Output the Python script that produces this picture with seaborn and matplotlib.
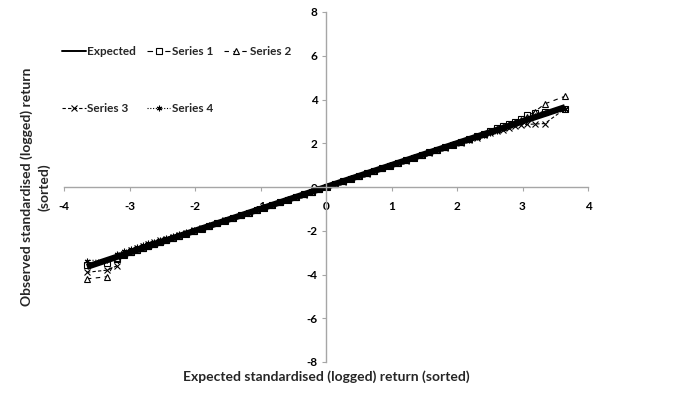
#!/usr/bin/env python
"""Normal Q-Q style figure: observed vs expected standardised (logged)
returns, sorted, for four series plus the expected 45 degree line.
"""
import matplotlib
matplotlib.use('Agg')
import matplotlib.pyplot as plt
from matplotlib.lines import Line2D
import seaborn as sb
import pandas as pd


output_file = 'out.png'

# expected standardised quantiles (x axis, shared by all series)
expected_q = [-3.65, -3.34, -3.19, -3.08, -2.98, -2.89, -2.80, -2.71, -2.62, -2.53,
              -2.44, -2.34, -2.24, -2.13, -2.02, -1.90, -1.78, -1.66, -1.54, -1.42,
              -1.30, -1.18, -1.06, -0.94, -0.82, -0.70, -0.58, -0.46, -0.34, -0.22,
              -0.10, 0.02, 0.14, 0.26, 0.38, 0.50, 0.62, 0.74, 0.86, 0.98,
              1.10, 1.22, 1.34, 1.46, 1.58, 1.70, 1.82, 1.94, 2.06, 2.18,
              2.30, 2.41, 2.51, 2.61, 2.70, 2.79, 2.88, 2.97, 3.07, 3.19,
              3.34, 3.65]

# observed sorted standardised returns
series_1 = [-3.56, -3.47, -3.30, -3.12, -2.99, -2.88, -2.79, -2.70, -2.61, -2.52,
            -2.43, -2.33, -2.24, -2.13, -2.02, -1.91, -1.79, -1.66, -1.54, -1.42,
            -1.30, -1.18, -1.06, -0.94, -0.82, -0.70, -0.58, -0.46, -0.34, -0.22,
            -0.10, 0.02, 0.14, 0.26, 0.38, 0.50, 0.62, 0.74, 0.86, 0.98,
            1.10, 1.22, 1.34, 1.46, 1.58, 1.70, 1.82, 1.94, 2.06, 2.19,
            2.32, 2.44, 2.56, 2.68, 2.80, 2.90, 2.98, 3.12, 3.30, 3.38,
            3.45, 3.58]
series_2 = [-4.20, -4.10, -3.25, -3.05, -2.96, -2.87, -2.78, -2.69, -2.60, -2.51,
            -2.42, -2.32, -2.22, -2.12, -2.01, -1.89, -1.77, -1.65, -1.53, -1.41,
            -1.29, -1.17, -1.05, -0.93, -0.81, -0.69, -0.57, -0.45, -0.33, -0.21,
            -0.09, 0.03, 0.15, 0.27, 0.39, 0.51, 0.63, 0.75, 0.87, 0.99,
            1.11, 1.23, 1.35, 1.47, 1.59, 1.71, 1.83, 1.95, 2.07, 2.20,
            2.32, 2.44, 2.55, 2.66, 2.76, 2.86, 2.96, 3.08, 3.22, 3.45,
            3.80, 4.15]
series_3 = [-3.90, -3.80, -3.60, -3.05, -2.90, -2.80, -2.70, -2.60, -2.52, -2.44,
            -2.36, -2.27, -2.18, -2.08, -1.98, -1.87, -1.76, -1.64, -1.53, -1.41,
            -1.29, -1.18, -1.06, -0.94, -0.82, -0.70, -0.58, -0.46, -0.35, -0.23,
            -0.11, 0.01, 0.13, 0.25, 0.37, 0.49, 0.61, 0.73, 0.85, 0.97,
            1.09, 1.21, 1.33, 1.45, 1.57, 1.69, 1.80, 1.92, 2.03, 2.15,
            2.26, 2.36, 2.45, 2.54, 2.62, 2.70, 2.78, 2.84, 2.86, 2.88,
            2.90, 3.58]
series_4 = [-3.36, -3.33, -3.05, -2.92, -2.84, -2.76, -2.67, -2.58, -2.50, -2.41,
            -2.33, -2.24, -2.15, -2.06, -1.96, -1.86, -1.75, -1.64, -1.52, -1.41,
            -1.29, -1.17, -1.05, -0.94, -0.82, -0.70, -0.58, -0.46, -0.34, -0.22,
            -0.10, 0.02, 0.14, 0.26, 0.38, 0.50, 0.62, 0.74, 0.86, 0.98,
            1.10, 1.22, 1.34, 1.46, 1.58, 1.70, 1.82, 1.93, 2.05, 2.16,
            2.27, 2.38, 2.48, 2.58, 2.68, 2.78, 2.88, 2.98, 3.10, 3.25,
            3.40, 3.55]

x_ticks = [-4, -3, -2, -1, 0, 1, 2, 3, 4]
y_ticks = [-8, -6, -4, -2, 0, 2, 4, 6, 8]

# per series styling: (label, values, marker, dashes, face colour)
series_styles = [
    ('Series 1', series_1, 's', (5, 3), 'white'),
    ('Series 2', series_2, '^', (4, 4), 'white'),
    ('Series 3', series_3, 'x', (3, 2), 'black'),
    ('Series 4', series_4, (6, 2, 0), (1, 1.5), 'black'),
]


def create_qq_figure(output_file):
    """Build and save the Q-Q comparison figure."""
    sb.set_style('white')
    plt.rcParams['font.family'] = ['Lato', 'DejaVu Sans']
    plt.rcParams['font.weight'] = 'bold'

    fig = plt.figure(figsize=(6.83, 3.97), dpi=100)
    ax = fig.add_axes([64 / 683, 35 / 397, 524 / 683, 350 / 397])

    df = pd.DataFrame({'expected': expected_q})
    df['Expected'] = expected_q

    handles = {}
    for label, values, marker, dashes, face in series_styles:
        df[label] = values
        sb.lineplot(x='expected', y=label, data=df, ax=ax, sort=False,
                    estimator=None, color='black', linewidth=0.8,
                    marker=marker, markersize=4, markeredgewidth=0.8,
                    markerfacecolor=face, markeredgecolor='black',
                    dashes=False)
        line = ax.lines[-1]
        line.set_dashes(dashes)
        handles[label] = line

    # the dense cloud of observations makes the expected line look heavy
    sb.lineplot(x='expected', y='Expected', data=df, ax=ax, sort=False,
                estimator=None, color='black', linewidth=4.5,
                solid_capstyle='butt')
    # thin proxy for the legend entry
    handles['Expected'] = Line2D([], [], color='black', linewidth=1.4)

    # excel style axes crossing at the origin
    ax.set_xlim(-4, 4)
    ax.set_ylim(-8, 8)
    for side in ['left', 'bottom']:
        ax.spines[side].set_position('zero')
        ax.spines[side].set_color('#a6a6a6')
        ax.spines[side].set_linewidth(1.0)
    ax.spines['right'].set_visible(False)
    ax.spines['top'].set_visible(False)

    ax.set_xticks(x_ticks)
    ax.set_yticks(y_ticks)
    ax.set_xticklabels([str(t) for t in x_ticks])
    ax.set_yticklabels([str(t) for t in y_ticks])
    ax.tick_params(axis='both', direction='out', length=3, width=0.8,
                   color='#a6a6a6', labelsize=8.5, labelcolor='black', pad=3)
    ax.tick_params(axis='x', pad=7)
    ax.xaxis.set_ticks_position('bottom')
    ax.yaxis.set_ticks_position('left')

    ax.set_xlabel('Expected standardised (logged) return (sorted)',
                  fontsize=10, fontweight='bold')
    ax.set_ylabel('Observed standardised (logged) return\n(sorted)',
                  fontsize=10, fontweight='bold', multialignment='center',
                  linespacing=1.5)
    ax.xaxis.set_label_coords(0.5, -0.025)
    ax.xaxis.label.set_va('top')
    ax.yaxis.set_label_coords(-0.025, 0.5)

    # legend in two rows: Expected, S1, S2 / S3, S4 (column major order)
    order = ['Expected', 'Series 3', 'Series 1', 'Series 4', 'Series 2']
    ax.legend([handles[k] for k in order], order, ncol=3,
              loc='upper left', bbox_to_anchor=(62 / 683, 1 - 46 / 397),
              bbox_transform=fig.transFigure, frameon=False,
              borderpad=0, borderaxespad=0, handlelength=2.0,
              handletextpad=0.15, columnspacing=0.9, labelspacing=3.9,
              prop={'size': 8.5, 'weight': 'bold'})

    plt.savefig(output_file, dpi=100)


def main():
    create_qq_figure(output_file)


if __name__ == "__main__":
    main()
